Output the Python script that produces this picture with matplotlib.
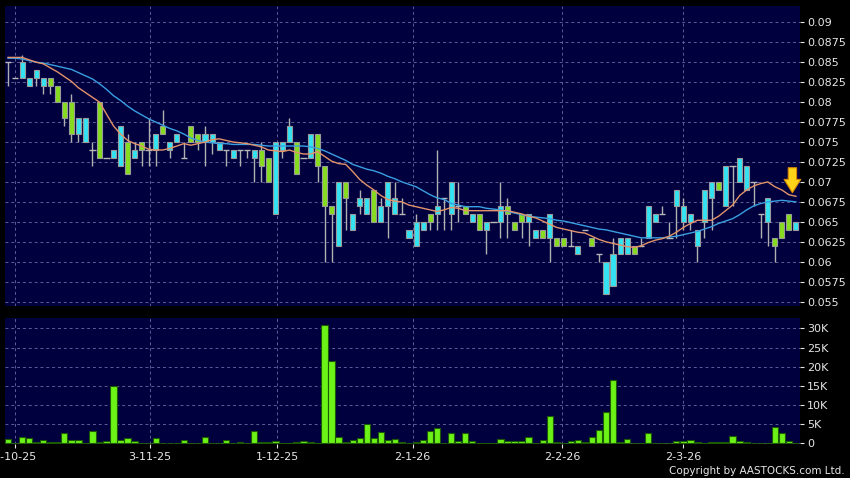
import matplotlib
matplotlib.use("Agg")
import matplotlib.pyplot as plt
import numpy as np

# daily OHLC (green = close above open, cyan = close below open, grey = unchanged)
opens = [0.085, 0.083, 0.085, 0.083, 0.084, 0.083, 0.082, 0.080, 0.078, 0.076,
         0.078, 0.078, 0.074, 0.073, 0.073, 0.074, 0.077, 0.071, 0.074, 0.074,
         0.074, 0.076, 0.076, 0.075, 0.076, 0.073, 0.075, 0.075, 0.076, 0.076,
         0.075, 0.074, 0.074, 0.074, 0.074, 0.074, 0.072, 0.070, 0.075, 0.075,
         0.077, 0.071, 0.073, 0.076, 0.072, 0.067, 0.066, 0.070, 0.068, 0.066,
         0.068, 0.068, 0.065, 0.067, 0.070, 0.068, 0.066, 0.064, 0.065, 0.065,
         0.065, 0.067, 0.068, 0.070, 0.067, 0.066, 0.066, 0.064, 0.065, 0.065,
         0.067, 0.066, 0.064, 0.065, 0.066, 0.064, 0.063, 0.066, 0.062, 0.062,
         0.062, 0.062, 0.064, 0.062, 0.061, 0.060, 0.061, 0.063, 0.063, 0.061,
         0.062, 0.067, 0.066, 0.066, 0.063, 0.069, 0.067, 0.066, 0.064, 0.069,
         0.070, 0.069, 0.072, 0.072, 0.073, 0.072, 0.070, 0.066, 0.068, 0.062,
         0.063, 0.064, 0.065]
highs = [0.085, 0.083, 0.0859, 0.083, 0.084, 0.083, 0.083, 0.082, 0.080, 0.081,
         0.078, 0.078, 0.075, 0.080, 0.073, 0.074, 0.077, 0.076, 0.075, 0.075,
         0.078, 0.076, 0.079, 0.075, 0.076, 0.075, 0.077, 0.076, 0.077, 0.076,
         0.075, 0.074, 0.074, 0.074, 0.074, 0.074, 0.075, 0.073, 0.075, 0.075,
         0.078, 0.075, 0.073, 0.076, 0.076, 0.072, 0.067, 0.070, 0.070, 0.066,
         0.069, 0.068, 0.069, 0.068, 0.070, 0.070, 0.068, 0.064, 0.066, 0.065,
         0.066, 0.074, 0.068, 0.070, 0.070, 0.067, 0.066, 0.066, 0.065, 0.065,
         0.070, 0.068, 0.065, 0.066, 0.066, 0.064, 0.064, 0.066, 0.063, 0.063,
         0.064, 0.062, 0.064, 0.063, 0.061, 0.060, 0.063, 0.063, 0.063, 0.062,
         0.063, 0.067, 0.066, 0.067, 0.065, 0.069, 0.068, 0.066, 0.064, 0.069,
         0.070, 0.070, 0.072, 0.072, 0.073, 0.072, 0.070, 0.066, 0.068, 0.063,
         0.065, 0.066, 0.065]
lows = [0.082, 0.083, 0.083, 0.082, 0.082, 0.081, 0.081, 0.080, 0.077, 0.075,
        0.075, 0.075, 0.072, 0.073, 0.073, 0.073, 0.072, 0.071, 0.073, 0.072,
        0.072, 0.072, 0.076, 0.073, 0.075, 0.073, 0.075, 0.074, 0.072, 0.0735,
        0.074, 0.072, 0.073, 0.072, 0.073, 0.070, 0.070, 0.070, 0.066, 0.073,
        0.075, 0.071, 0.073, 0.073, 0.070, 0.060, 0.060, 0.062, 0.064, 0.064,
        0.066, 0.066, 0.065, 0.065, 0.063, 0.066, 0.066, 0.063, 0.062, 0.064,
        0.064, 0.064, 0.064, 0.064, 0.065, 0.066, 0.065, 0.064, 0.061, 0.065,
        0.063, 0.063, 0.064, 0.063, 0.062, 0.063, 0.063, 0.060, 0.062, 0.062,
        0.062, 0.061, 0.064, 0.062, 0.060, 0.056, 0.057, 0.061, 0.061, 0.061,
        0.062, 0.063, 0.065, 0.066, 0.063, 0.063, 0.064, 0.064, 0.060, 0.063,
        0.064, 0.069, 0.067, 0.067, 0.070, 0.069, 0.067, 0.063, 0.062, 0.060,
        0.063, 0.064, 0.064]
closes = [0.085, 0.083, 0.083, 0.082, 0.083, 0.082, 0.083, 0.082, 0.080, 0.080,
          0.076, 0.075, 0.074, 0.080, 0.073, 0.073, 0.072, 0.075, 0.073, 0.075,
          0.074, 0.074, 0.077, 0.074, 0.075, 0.073, 0.077, 0.076, 0.075, 0.075,
          0.074, 0.074, 0.073, 0.074, 0.074, 0.073, 0.074, 0.073, 0.066, 0.074,
          0.075, 0.075, 0.073, 0.073, 0.076, 0.072, 0.067, 0.062, 0.070, 0.064,
          0.067, 0.066, 0.069, 0.065, 0.067, 0.066, 0.066, 0.063, 0.062, 0.064,
          0.066, 0.066, 0.068, 0.066, 0.067, 0.067, 0.065, 0.066, 0.064, 0.065,
          0.065, 0.067, 0.065, 0.066, 0.065, 0.063, 0.064, 0.063, 0.063, 0.063,
          0.062, 0.061, 0.064, 0.063, 0.061, 0.056, 0.057, 0.061, 0.061, 0.062,
          0.062, 0.063, 0.065, 0.066, 0.063, 0.067, 0.065, 0.065, 0.062, 0.065,
          0.068, 0.070, 0.067, 0.072, 0.070, 0.069, 0.070, 0.066, 0.065, 0.063,
          0.065, 0.066, 0.064]

# moving averages as drawn on the chart
ma_short = [0.0856, 0.0856, 0.0856, 0.0853, 0.0850, 0.0848, 0.0843, 0.0838, 0.0832, 0.0826,
            0.0818, 0.0812, 0.0806, 0.0800, 0.0785, 0.0770, 0.0760, 0.0752, 0.0748, 0.0745,
            0.0741, 0.0740, 0.0740, 0.0742, 0.0745, 0.0748, 0.0746, 0.0748, 0.0750, 0.0753,
            0.0754, 0.0752, 0.0750, 0.0749, 0.0748, 0.0746, 0.0744, 0.0740, 0.0739, 0.0738,
            0.0740, 0.0737, 0.0735, 0.0735, 0.0738, 0.0732, 0.0726, 0.0723, 0.0722, 0.0713,
            0.0703, 0.0696, 0.0690, 0.0683, 0.0678, 0.0676, 0.0675, 0.0671, 0.0669, 0.0667,
            0.0665, 0.0663, 0.0665, 0.0668, 0.0667, 0.0664, 0.0664, 0.0664, 0.0664, 0.0664,
            0.0664, 0.0664, 0.0662, 0.0660, 0.0657, 0.0655, 0.0651, 0.0647, 0.0643, 0.0641,
            0.0639, 0.0637, 0.0636, 0.0632, 0.0628, 0.0625, 0.0623, 0.0621, 0.0619, 0.0618,
            0.0620, 0.0624, 0.0627, 0.0629, 0.0632, 0.0637, 0.0643, 0.0648, 0.0652, 0.0652,
            0.0652, 0.0657, 0.0664, 0.0671, 0.0683, 0.0690, 0.0695, 0.0698, 0.0700, 0.0694,
            0.0690, 0.0684, 0.0682]
ma_long = [0.0855, 0.0855, 0.0854, 0.0852, 0.0850, 0.0849, 0.0847, 0.0845, 0.0843, 0.0841,
           0.0837, 0.0833, 0.0829, 0.0823, 0.0816, 0.0808, 0.0802, 0.0795, 0.0789, 0.0784,
           0.0779, 0.0775, 0.0771, 0.0767, 0.0764, 0.0760, 0.0755, 0.0752, 0.0750, 0.0749,
           0.0748, 0.0748, 0.0747, 0.0747, 0.0747, 0.0747, 0.0746, 0.0745, 0.0745, 0.0745,
           0.0745, 0.0745, 0.0745, 0.0744, 0.0742, 0.0739, 0.0735, 0.0731, 0.0727, 0.0722,
           0.0719, 0.0716, 0.0714, 0.0711, 0.0707, 0.0704, 0.0700, 0.0697, 0.0694, 0.0689,
           0.0684, 0.0680, 0.0678, 0.0673, 0.0671, 0.0669, 0.0669, 0.0669, 0.0667, 0.0666,
           0.0665, 0.0663, 0.0661, 0.0659, 0.0657, 0.0656, 0.0655, 0.0654, 0.0652, 0.0651,
           0.0649, 0.0647, 0.0645, 0.0643, 0.0641, 0.0640, 0.0638, 0.0636, 0.0634, 0.0632,
           0.0630, 0.0630, 0.0630, 0.0630, 0.0631, 0.0632, 0.0634, 0.0636, 0.0638, 0.0641,
           0.0644, 0.0648, 0.0651, 0.0654, 0.0659, 0.0665, 0.0670, 0.0673, 0.0675, 0.0676,
           0.0677, 0.0676, 0.0675]

# volume in thousands of shares
volume_k = [1.1, 0, 1.7, 1.4, 0.3, 0.9, 0.35, 0.3, 2.7, 0.8,
            0.8, 0.2, 3.1, 0.3, 0.5, 15.0, 0.8, 1.5, 0.6, 0,
            0.2, 1.3, 0.1, 0, 0, 0.9, 0, 0, 1.6, 0,
            0, 0.8, 0.2, 0.3, 0, 3.1, 0.35, 0.35, 0.6, 0.1,
            0, 0.3, 0.6, 0.3, 0, 30.8, 21.5, 1.6, 0.3, 0.9,
            1.4, 5.0, 1.4, 3.0, 0.9, 1.1, 0.3, 0, 0.3, 0.8,
            3.2, 3.9, 0.2, 2.6, 0.7, 2.8, 0.7, 0.2, 0, 0,
            1.1, 0.5, 0.5, 0.7, 1.7, 0, 0.8, 7.0, 0.4, 0.1,
            0.5, 0.8, 0.3, 1.6, 3.5, 8.2, 16.5, 0.4, 1.1, 0,
            0, 2.6, 0, 0, 0, 0.5, 0.5, 0.9, 0.4, 0.2,
            0.3, 0.4, 0.4, 2.0, 0.7, 0.3, 0, 0.2, 0.2, 4.3,
            2.8, 0.5, 0]

date_labels = ["2-10-25", "3-11-25", "1-12-25", "2-1-26", "2-2-26", "2-3-26"]
date_pos = [1.0, 20.2, 38.3, 57.5, 78.8, 96.0]
price_ticks = [0.055, 0.0575, 0.06, 0.0625, 0.065, 0.0675, 0.07, 0.0725,
               0.075, 0.0775, 0.08, 0.0825, 0.085, 0.0875, 0.09]
vol_ticks = [0, 5, 10, 15, 20, 25, 30]

BG = "#00003f"
GRID = "#5d5d96"
TXT = "#e6e6e6"
CYAN = "#33e3f2"
GREEN = "#86dc1e"
EDGE = "#9a9a9a"

x = np.arange(len(closes))
o = np.array(opens); c = np.array(closes)
h = np.array(highs); l = np.array(lows)

fig = plt.figure(figsize=(8.5, 4.78), dpi=100, facecolor="black")
ax = fig.add_axes([5/850, 1 - 306/478, 795/850, 300/478], facecolor=BG)
axv = fig.add_axes([5/850, 1 - 444/478, 795/850, 126/478], facecolor=BG, sharex=ax)

for a in (ax, axv):
    a.grid(True, color=GRID, linestyle=(0, (3, 3)), linewidth=0.7)
    a.set_axisbelow(True)
    for s in a.spines.values():
        s.set_visible(False)
    a.yaxis.tick_right()
    a.tick_params(axis="y", colors=TXT, labelsize=8, length=3, width=0.8, pad=2)
    a.tick_params(axis="x", colors=TXT, labelsize=8, length=3, width=0.8, pad=3)

# wicks
ax.vlines(x, l, h, color="#b0b0b0", linewidth=1, zorder=2)
# bodies
up = c > o
dn = c < o
flat = c == o
w = 0.72
ax.bar(x[up], (c - o)[up], bottom=o[up], width=w, color=GREEN, edgecolor=EDGE, linewidth=0.8, zorder=3)
ax.bar(x[dn], (o - c)[dn], bottom=c[dn], width=w, color=CYAN, edgecolor=EDGE, linewidth=0.8, zorder=3)
ax.hlines(c[flat], x[flat] - w/2 - 0.1, x[flat] + w/2 + 0.1, color="#b8b8b8", linewidth=1, zorder=3)

ax.plot(x, ma_long, color="#3a9fe0", linewidth=1, zorder=4)
ax.plot(x, ma_short, color="#e2936a", linewidth=1, zorder=4)

# arrow at the end of the short average
ax.annotate("", xy=(x[-1] - 0.5, ma_short[-1] + 0.0001), xytext=(0, 22), textcoords="offset points",
            arrowprops=dict(arrowstyle="simple,head_width=1.0,head_length=0.8,tail_width=0.5",
                            fc="#ffd21a", ec="#d98a00", lw=0.8, mutation_scale=12), zorder=6)

ax.set_ylim(0.05446, 0.09204)
ax.set_xlim(-0.43, 112.58)
ax.set_yticks(price_ticks)
ax.set_yticklabels([("%.4f" % t).rstrip("0") for t in price_ticks])
ax.tick_params(axis="x", labelbottom=False, length=0)

axv.bar(x, volume_k, width=0.9, color="#6cf216", edgecolor="#1d5a06", linewidth=0.8, zorder=3)
axv.set_ylim(-0.18, 32.7)
axv.set_yticks(vol_ticks)
axv.set_yticklabels(["0"] + ["%dK" % v for v in vol_ticks[1:]])
axv.set_xticks(date_pos)
axv.set_xticklabels(date_labels)

fig.text(845/850, 1 - 471/478, "Copyright by AASTOCKS.com Ltd.", color=TXT, fontsize=7.5,
         ha="right", va="center")

fig.savefig("out.png", dpi=100, facecolor="black")
